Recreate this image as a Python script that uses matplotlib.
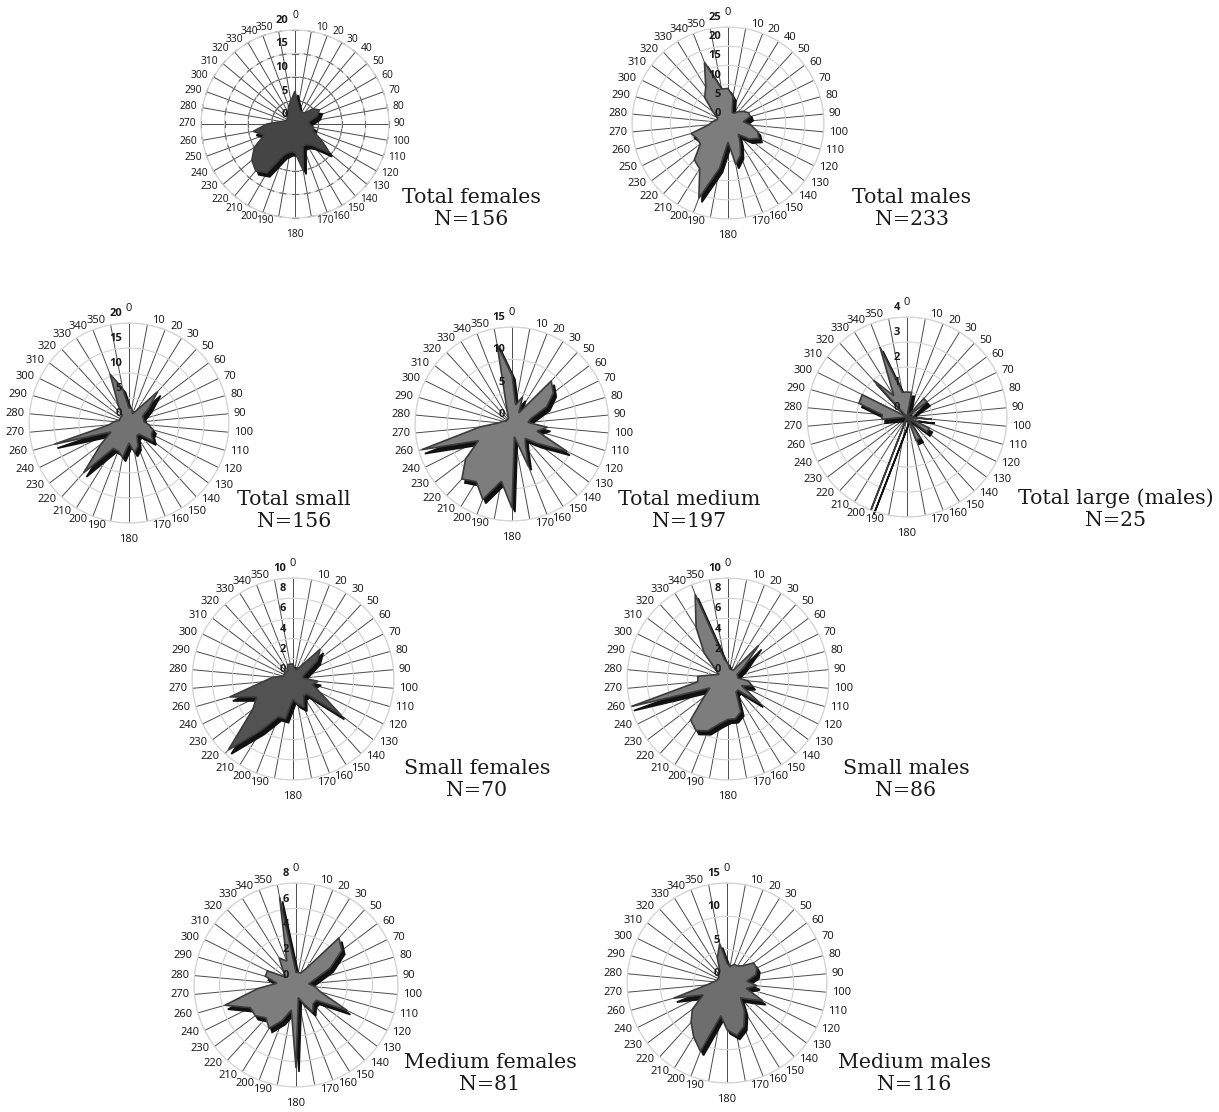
import matplotlib.pyplot as plt
import numpy as np
from matplotlib.transforms import offset_copy

W, H = 1219, 1112

# direction categories (deg) - Excel category labels, some charts skip two of them
dirs_all = list(range(0, 360, 10))
dirs_males = [d for d in dirs_all if d not in (30, 240)]
dirs_rest = [d for d in dirs_all if d not in (40, 250)]

total_females = [7, 4, 3, 3, 3, 5, 6, 5, 3, 3, 4, 4, 6, 9.5, 6, 5, 5, 10,
                 6, 6, 7, 12, 13, 12, 10, 7, 9, 6, 3, 2, 2, 2, 3, 3, 4, 5]
total_males = [9, 7, 3, 3, 4, 5, 6, 6, 4, 6, 8, 9, 7, 4, 6, 9, 11,
               5, 12, 21, 14, 13, 9, 9, 10, 5, 4, 3, 3, 5, 9, 11, 17, 9]
total_small = [3, 3, 2, 3, 8.5, 5, 3, 3, 3, 4, 5, 5, 6, 3, 3, 5, 6,
               4, 7, 6, 6, 13.5, 7, 4, 15.5, 4, 3, 2, 2, 2, 2, 4, 10.5, 7]
total_medium = [7.5, 3, 4.5, 2, 9, 8, 6, 3, 2.5, 5.5, 4, 9.5, 5, 3, 4, 7, 2,
                13, 9, 12.5, 10.5, 11.5, 9, 5.8, 14.5, 5, 2, 1.5, 1, 1, 1, 1, 2, 12.5]
total_large = [1, 1, 0, 0, 1, 1, 0, 0, 0, 1, 0, 1, 1, 0, 1, 1, 0,
               0, 0, 4, 0, 0, 0, 0, 0, 1, 1, 2, 2, 0, 2, 1, 3, 1]
small_females = [1.5, 1, 1, 1.5, 4, 3, 1.5, 1, 1, 2.5, 2, 3, 6, 2, 2, 3, 2.5,
                 2, 4, 4, 6, 9.5, 5, 4, 6.5, 3, 2, 1, 1, 1, 1, 1, 1.5, 1.5]
small_males = [1.5, 1, 1, 1, 4.5, 2, 1, 1, 1, 2, 2.5, 1.5, 4, 1.5, 1.5, 3.5, 4,
               4, 4.5, 5.5, 6, 5.5, 3, 2, 10, 3, 3, 1.5, 1, 1.5, 3.5, 6, 9, 2]
medium_females = [1, 1, 1, 1.5, 5, 4.5, 3, 1.5, 1, 1.5, 2, 4.5, 2, 2, 2.5, 1.5, 1,
                  6.5, 2, 3, 4, 3.5, 4, 4, 5.8, 3, 1.5, 2.5, 2.5, 1, 1.5, 2.5, 2, 7]
medium_males = [3, 2.5, 3, 3, 3.5, 5, 5, 4.5, 3, 4.5, 3, 6, 4, 3, 5, 7, 8,
                7, 5, 11, 9.5, 8, 6.5, 4, 8.3, 3, 2, 1.5, 1.5, 1.5, 2, 2, 4, 6]

titles = ["Total females", "Total males", "Total small", "Total medium",
          "Total large (males)", "Small females", "Small males",
          "Medium females", "Medium males"]
counts = [156, 233, 156, 197, 25, 70, 86, 81, 116]
rmax = [20, 25, 20, 15, 4, 10, 10, 8, 15]
rstep = [5, 5, 5, 5, 1, 2, 2, 2, 5]

fig = plt.figure(figsize=(W / 100, H / 100), dpi=100)
fig.patch.set_facecolor('white')


def rose(cx, cy, R, dirs, vals, vmax, step, fill, title, n, capx, capy, ticked=False):
    ax = fig.add_axes([(cx - R) / W, 1 - (cy + R) / H, 2 * R / W, 2 * R / H],
                      projection='polar')
    ax.set_theta_zero_location('N')
    ax.set_theta_direction(-1)
    k = len(dirs)
    theta = np.arange(k) * 2 * np.pi / k
    ax.set_xticks(theta)
    ax.set_xticklabels([])
    ticks = np.arange(0, vmax + step / 2, step)
    ax.set_ylim(0, vmax)
    ax.set_yticks(ticks)
    ax.set_yticklabels([])
    ax.xaxis.grid(True, color='#4a4a4a', lw=0.7)
    ax.yaxis.grid(True, color='#d2d2d2', lw=0.8)
    ax.spines['polar'].set_color('#d2d2d2')
    ax.spines['polar'].set_linewidth(0.8)

    # category labels placed Excel-like next to the spoke ends
    fs = 7.4 if k > 34 else 8
    for a, d in zip(theta, dirs):
        s, c = np.sin(a), np.cos(a)
        if abs(s) < 0.05:
            ha = 'center'
            va = 'bottom' if c > 0 else 'top'
            ox, oy = 0, (9 if c > 0 else -11)
        else:
            ha = 'left' if s > 0 else 'right'
            va = 'center'
            ox, oy = (5 if s > 0 else -5), 4 * c
        tr = offset_copy(ax.transData, fig=fig, x=ox, y=oy, units='dots')
        ax.text(a, vmax, str(d), transform=tr, ha=ha, va=va, fontsize=fs,
                family='Open Sans', color='#111111', clip_on=False)

    if ticked:
        # short tick marks across every spoke at each ring
        for t in ticks[1:]:
            dth = 3.0 / (t / vmax * R)
            for a in theta:
                ax.plot([a - dth, a + dth], [t, t], color='#6a6a6a', lw=0.8,
                        zorder=1.6, clip_on=False)

    th = np.append(theta, theta[0])
    v = np.append(vals, vals[0])
    shadow = offset_copy(ax.transData, fig=fig, x=3, y=-4, units='dots')
    ax.fill(th, v, facecolor='#111111', edgecolor='#111111', lw=1.2,
            zorder=2.1, transform=shadow, clip_on=False)
    ax.fill(th, v, facecolor=fill, edgecolor='#3c3c3c', lw=1.2, zorder=2.2,
            clip_on=False)

    for t in ticks:
        tr = offset_copy(ax.transData, fig=fig, x=-7, y=4, units='dots')
        ax.text(0, t, f"{t:g}", transform=tr, ha='right', va='bottom',
                fontsize=8, fontweight='bold', family='Open Sans',
                color='#1a1a1a', zorder=5, clip_on=False)

    fig.text(capx / W, 1 - capy / H, title, ha='center', va='baseline',
             fontsize=14.8, family='DejaVu Serif', color='#1a1a1a')
    fig.text(capx / W, 1 - (capy + 22) / H, f"N={n}", ha='center',
             va='baseline', fontsize=14.8, family='DejaVu Serif',
             color='#1a1a1a')


panels = [
    ((295, 124, 94), dirs_all, total_females, '#454545', (471, 203)),
    ((728, 123, 96), dirs_males, total_males, '#7d7d7d', (912, 203)),
    ((129, 423, 100), dirs_rest, total_small, '#727272', (294, 505)),
    ((512, 424, 97), dirs_rest, total_medium, '#7d7d7d', (689, 505)),
    ((907, 417, 100), dirs_rest, total_large, '#7d7d7d', (1116, 504)),
    ((293, 679, 101), dirs_rest, small_females, '#525252', (477, 774)),
    ((728, 679, 101), dirs_rest, small_males, '#7d7d7d', (906, 774)),
    ((296, 985, 102), dirs_rest, medium_females, '#7d7d7d', (490, 1068)),
    ((727, 983, 100), dirs_rest, medium_males, '#6e6e6e', (914, 1068)),
]

for i, (geo, dirs, vals, col, cap) in enumerate(panels):
    rose(geo[0], geo[1], geo[2], dirs, vals, rmax[i], rstep[i], col,
         titles[i], counts[i], cap[0], cap[1], ticked=(i == 0))

fig.savefig('out.png', dpi=100)
